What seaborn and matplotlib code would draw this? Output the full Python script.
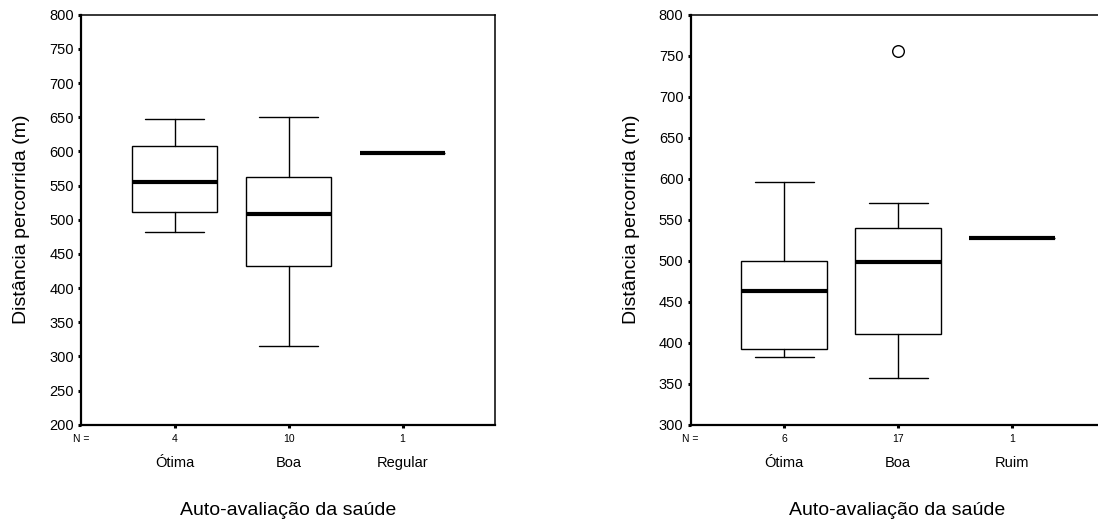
import matplotlib
matplotlib.use("Agg")
import matplotlib.pyplot as plt
import seaborn as sns
import pandas as pd

# Summary statistics for each self-rated health group (distance walked, m)
left_categories = ["Ótima", "Boa", "Regular"]
left_n = [4, 10, 1]
left_whislo = [482, 315, 597]
left_q1 = [512, 432, 597]
left_median = [555, 509, 597]
left_q3 = [608, 562, 597]
left_whishi = [647, 651, 597]
left_outliers = [[], [], []]

right_categories = ["Ótima", "Boa", "Ruim"]
right_n = [6, 17, 1]
right_whislo = [383, 357, 528]
right_q1 = [392, 411, 528]
right_median = [463, 498, 528]
right_q3 = [500, 540, 528]
right_whishi = [596, 570, 528]
right_outliers = [[], [756], []]

left_yticks = list(range(200, 801, 50))
right_yticks = list(range(300, 801, 50))

sns.set_theme(style="ticks")
plt.rcParams["font.family"] = ["Liberation Sans", "DejaVu Sans"]
plt.rcParams["text.color"] = "black"
plt.rcParams["axes.labelcolor"] = "black"
plt.rcParams["xtick.color"] = "black"
plt.rcParams["ytick.color"] = "black"
plt.rcParams["axes.edgecolor"] = "black"

fig = plt.figure(figsize=(10.98, 5.27), dpi=100)
ax_left = fig.add_axes([0.0738, 0.1941, 0.377, 0.778])
ax_right = fig.add_axes([0.629, 0.1941, 0.377, 0.778])


def draw_panel(ax, cats, ns, wlo, q1, med, q3, whi, outl, yticks):
    stats = []
    for i in range(len(cats)):
        stats.append(dict(med=med[i], q1=q1[i], q3=q3[i],
                          whislo=wlo[i], whishi=whi[i], fliers=[]))
    pos = list(range(len(cats)))
    ax.bxp(stats, positions=pos, widths=0.75, capwidths=0.52,
           showfliers=False, patch_artist=True,
           boxprops=dict(facecolor="white", edgecolor="black", linewidth=1.0),
           whiskerprops=dict(color="black", linewidth=1.0),
           capprops=dict(color="black", linewidth=1.0),
           medianprops=dict(color="black", linewidth=3.0, solid_capstyle="butt"))

    # outlying observations
    pts = pd.DataFrame([(i, v) for i, vals in enumerate(outl) for v in vals],
                       columns=["grupo", "valor"])
    if len(pts):
        sns.scatterplot(data=pts, x="grupo", y="valor", ax=ax, marker="o",
                        s=70, facecolor="white", edgecolor="black",
                        linewidth=1.0, zorder=5)

    ax.set_xlim(-0.82, 2.81)
    ax.set_ylim(yticks[0], yticks[-1])
    ax.set_yticks(yticks)
    ax.set_yticklabels([str(t) for t in yticks], fontsize=10.5)
    ax.set_xticks(pos)
    ax.set_xticklabels([])
    ax.tick_params(axis="both", direction="out", length=2.2, width=2.2,
                   color="black", labelcolor="black", pad=3)

    for side in ["left", "bottom"]:
        ax.spines[side].set_linewidth(1.6)
    for side in ["top", "right"]:
        ax.spines[side].set_linewidth(1.1)
    for sp in ax.spines.values():
        sp.set_color("black")

    # counts and category names beneath the axis
    ax.annotate("N =", xy=(0, 0), xycoords="axes fraction",
                xytext=(0, -10.5), textcoords="offset points",
                ha="center", va="center", fontsize=7.5, color="black")
    for i, (c, n) in enumerate(zip(cats, ns)):
        ax.annotate(str(n), xy=(i, 0), xycoords=("data", "axes fraction"),
                    xytext=(0, -10.5), textcoords="offset points",
                    ha="center", va="center", fontsize=7.5, color="black")
        ax.annotate(c, xy=(i, 0), xycoords=("data", "axes fraction"),
                    xytext=(0, -27.5), textcoords="offset points",
                    ha="center", va="center", fontsize=10.5, color="black")

    ax.set_xlabel("Auto-avaliação da saúde", fontsize=14, color="black")
    ax.xaxis.label.set_va("center")
    ax.xaxis.set_label_coords(0.5, -0.21)
    ax.set_ylabel("Distância percorrida (m)", fontsize=14, color="black")
    ax.yaxis.label.set_va("center")
    ax.yaxis.set_label_coords(-0.143, 0.5)


draw_panel(ax_left, left_categories, left_n, left_whislo, left_q1,
           left_median, left_q3, left_whishi, left_outliers, left_yticks)
draw_panel(ax_right, right_categories, right_n, right_whislo, right_q1,
           right_median, right_q3, right_whishi, right_outliers, right_yticks)

fig.savefig("out.png", dpi=100, facecolor="white")
